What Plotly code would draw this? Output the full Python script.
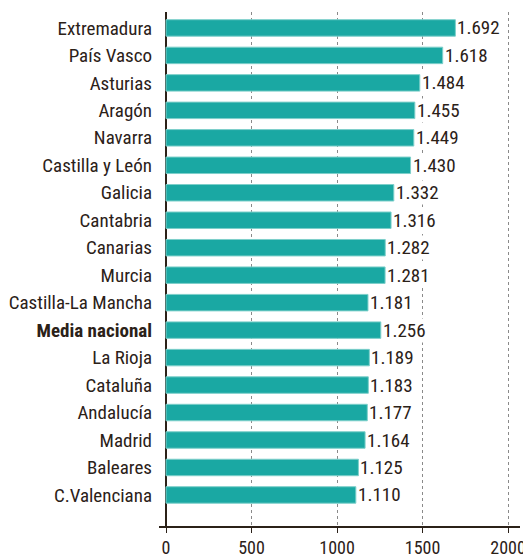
import plotly.graph_objects as go

regions = ["Extremadura", "País Vasco", "Asturias", "Aragón", "Navarra",
           "Castilla y León", "Galicia", "Cantabria", "Canarias", "Murcia",
           "Castilla-La Mancha", "Media nacional", "La Rioja", "Cataluña",
           "Andalucía", "Madrid", "Baleares", "C.Valenciana"]
values = [1692, 1618, 1484, 1455, 1449, 1430, 1332, 1316, 1282, 1281,
          1181, 1256, 1189, 1183, 1177, 1164, 1125, 1110]
x_ticks = [0, 500, 1000, 1500, 2000]

FONT = "Roboto Condensed, Liberation Sans Narrow, Liberation Sans, sans-serif"
TXT = "#2b2118"
FS = 19

ticktext = [f"<b>{r}</b>" if r == "Media nacional" else r for r in regions]

fig = go.Figure()
fig.add_trace(go.Bar(
    x=values, y=regions, orientation="h",
    marker=dict(color="#1aa8a3", line=dict(color="#7dcfca", width=1)),
    width=0.6, hoverinfo="x+y",
))

for r, v in zip(regions, values):
    fig.add_annotation(
        x=v, y=r, xref="x", yref="y",
        text=f"{v:,}".replace(",", "."),
        showarrow=False, xanchor="left", yanchor="middle",
        xshift=1, bgcolor="white", borderpad=0,
        font=dict(family=FONT, size=19, color=TXT),
    )

fig.update_layout(
    width=523, height=554,
    margin=dict(l=159, r=3, t=12, b=28, autoexpand=False),
    paper_bgcolor="white", plot_bgcolor="white",
    showlegend=False,
    font=dict(family=FONT, size=FS, color=TXT),
)
fig.update_xaxes(
    range=[-41, 2070], automargin=False,
    tickvals=x_ticks, ticktext=[str(t) for t in x_ticks],
    showgrid=True, gridcolor="#8a8a8a", griddash="dot", gridwidth=1,
    zeroline=True, zerolinecolor=TXT, zerolinewidth=1.5,
    showline=True, linecolor=TXT, linewidth=1.5,
    ticks="outside", ticklen=5, tickcolor=TXT,
    ticklabeloverflow="allow",
    tickfont=dict(family=FONT, size=18, color=TXT),
)
fig.update_yaxes(
    type="category", categoryorder="array", categoryarray=regions,
    tickvals=regions, ticktext=ticktext, automargin=False,
    range=[len(regions) - 1 + 1.13, -0.58],
    showgrid=False, showline=False, zeroline=False, ticks="",
    ticklabelstandoff=6,
    tickfont=dict(family=FONT, size=FS, color=TXT),
)

fig.write_html("out.html", config={"displayModeBar": False},
               post_script="document.body.style.margin='0';document.body.style.padding='0';")
